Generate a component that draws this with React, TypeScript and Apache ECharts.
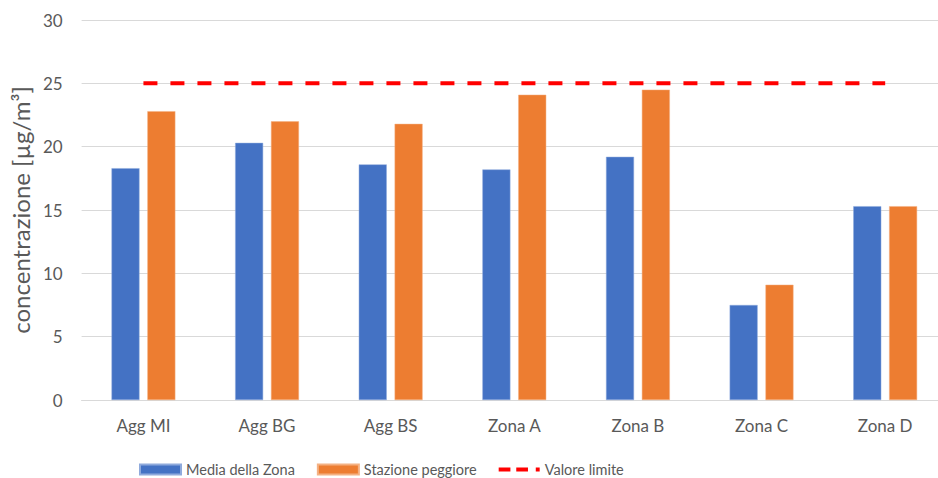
import React, { useEffect, useRef } from "react";
import * as echarts from "echarts";

const categories = ["Agg MI", "Agg BG", "Agg BS", "Zona A", "Zona B", "Zona C", "Zona D"];
const mediaZona = [18.3, 20.3, 18.6, 18.2, 19.2, 7.5, 15.3];
const stazionePeggiore = [22.8, 22.0, 21.8, 24.1, 24.5, 9.1, 15.3];
const valoreLimite = [25, 25, 25, 25, 25, 25, 25];
const yTicks = { min: 0, max: 30, interval: 5 };

export default function App() {
  const ref = useRef<HTMLDivElement>(null);
  useEffect(() => {
    if (!ref.current) return;
    const chart = echarts.init(ref.current, undefined, { renderer: "svg" });
    const font = "Lato";
    chart.setOption({
      animation: false,
      backgroundColor: "#ffffff",
      textStyle: { fontFamily: font },
      grid: { left: 81, top: 20, width: 866, height: 380, containLabel: false },
      legend: {
        left: 134,
        top: 457,
        itemWidth: 41,
        itemHeight: 10,
        itemGap: 22,
        textStyle: { color: "#595959", fontSize: 14.5, fontFamily: font },
        data: [
          { name: "Media della Zona", icon: "rect" },
          { name: "Stazione peggiore", icon: "rect" },
          {
            name: "Valore limite",
            icon: "path://M0,0h12v4h-12z M18,0h12v4h-12z M38,0h4v4h-4z",
            itemStyle: { color: "#FF0000" },
          },
        ],
      },
      xAxis: {
        type: "category",
        data: categories,
        axisLine: { show: true, lineStyle: { color: "#D9D9D9", width: 1 } },
        axisTick: { show: false },
        axisLabel: { color: "#595959", fontSize: 17, margin: 17, fontFamily: font },
      },
      yAxis: {
        type: "value",
        min: yTicks.min,
        max: yTicks.max,
        interval: yTicks.interval,
        name: "concentrazione [µg/m³]",
        nameLocation: "middle",
        nameGap: 48,
        nameTextStyle: { color: "#595959", fontSize: 24, fontFamily: font },
        axisLine: { show: false },
        axisTick: { show: false },
        axisLabel: { color: "#595959", fontSize: 17, margin: 19, fontFamily: font },
        splitLine: { lineStyle: { color: "#D9D9D9", width: 1 } },
      },
      series: [
        {
          name: "Media della Zona",
          type: "bar",
          data: mediaZona,
          barWidth: 28,
          barGap: "28%",
          itemStyle: { color: "#4472C4", borderColor: "#8FAADC", borderWidth: 0.5 },
        },
        {
          name: "Stazione peggiore",
          type: "bar",
          data: stazionePeggiore,
          barWidth: 28,
          barGap: "28%",
          itemStyle: { color: "#ED7D31", borderColor: "#F4B183", borderWidth: 0.5 },
        },
        {
          name: "Valore limite",
          type: "line",
          data: valoreLimite,
          symbol: "none",
          z: 5,
          lineStyle: { color: "#FF0000", width: 4, type: [14, 13] },
          itemStyle: { color: "#FF0000" },
        },
      ],
    });
    return () => chart.dispose();
  }, []);
  return (
    <div
      ref={ref}
      style={{ position: "fixed", left: 0, top: 0, width: 960, height: 478 }}
    />
  );
}
